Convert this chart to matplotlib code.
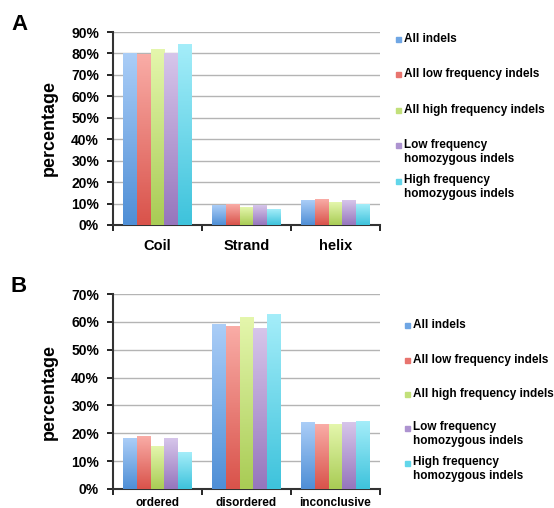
import numpy as np
import matplotlib.pyplot as plt
from matplotlib.colors import LinearSegmentedColormap
from matplotlib.patches import Rectangle

plt.rcParams['font.family'] = ['Liberation Sans', 'DejaVu Sans']
plt.rcParams['font.weight'] = 'bold'

# Datos
series = ['All indels', 'All low frequency indels', 'All high frequency indels',
          'Low frequency\nhomozygous indels', 'High frequency\nhomozygous indels']
cats_a = ['Coil', 'Strand', 'helix']
vals_a = [[80.1, 9.0, 11.2],
          [79.3, 9.5, 11.7],
          [82.0, 8.2, 10.6],
          [80.1, 9.3, 11.5],
          [84.3, 7.0, 9.5]]
cats_b = ['ordered', 'disordered', 'inconclusive']
vals_b = [[18.0, 58.9, 24.0],
          [18.8, 58.2, 23.0],
          [15.2, 61.5, 23.3],
          [18.3, 57.6, 24.0],
          [13.2, 62.5, 24.1]]

# colores (abajo, arriba) para el degradado
grad = [('#4f8fd6', '#aacdf7'),
        ('#d9534b', '#f9aca6'),
        ('#a9cc55', '#e4f6ac'),
        ('#9676bd', '#d6c5ea'),
        ('#3ec3dc', '#a4edf9')]
mid = ['#6fa6e4', '#e8746e', '#c2e07a', '#ad93d0', '#62d6ea']

W, H = 554, 508
fig = plt.figure(figsize=(W / 100, H / 100), dpi=100)


def panel(rect, cats, vals, ymax, step, legend_y, legend_x, letter, letter_y, lab_pad, lab_size):
    ax = fig.add_axes(rect)
    n = len(vals)
    x = np.arange(len(cats))
    bw = 0.78 / n
    for i, v in enumerate(vals):
        cmap = LinearSegmentedColormap.from_list('g%d' % i, grad[i])
        pos = x - 0.39 + bw * (i + 0.5)
        bars = ax.bar(pos, v, bw, color='none', zorder=3)
        # degradado vertical dentro de cada barra
        for b in bars:
            x0, y0 = b.get_x(), b.get_y()
            ax.imshow(np.linspace(0, 1, 64).reshape(-1, 1), cmap=cmap, origin='lower',
                      extent=(x0, x0 + b.get_width(), y0, y0 + b.get_height()),
                      aspect='auto', zorder=3)
    ax.set_xlim(-0.5, len(cats) - 0.5)
    ax.set_ylim(0, ymax)
    ticks = np.arange(0, ymax + 1, step)
    ax.set_yticks(ticks)
    ax.set_yticklabels(['%d%%' % t for t in ticks], fontsize=10, fontweight='bold')
    ax.set_xticks(x)
    ax.set_xticklabels(cats, fontsize=lab_size, fontweight='bold')
    ax.set_xticks(np.arange(-0.5, len(cats), 1), minor=True)
    ax.tick_params(axis='x', which='major', length=0, pad=lab_pad)
    ax.tick_params(axis='x', which='minor', length=4, width=1.2, direction='out')
    ax.tick_params(axis='y', length=4, width=1.2, pad=6)
    ax.yaxis.grid(True, color='#b4b4b4', linewidth=1)
    ax.set_axisbelow(True)
    for s in ['top', 'right']:
        ax.spines[s].set_visible(False)
    for s in ['left', 'bottom']:
        ax.spines[s].set_linewidth(1.5)
        ax.spines[s].set_color('#333333')
    ax.set_ylabel('percentage', fontsize=13, fontweight='bold', labelpad=10)
    fig.text(11 / W, 1 - letter_y / H, letter, fontsize=16, fontweight='bold', va='center')
    # leyenda manual (espaciado irregular como en el original)
    for i, lab in enumerate(series):
        yy = 1 - legend_y[i] / H
        fig.patches.append(Rectangle((legend_x / W, yy - 2.5 / H), 5 / W, 5 / H,
                                     transform=fig.transFigure, color=mid[i]))
        if '\n' in lab:
            fig.text((legend_x + 8) / W, yy + 7 / H, lab, fontsize=8.5, fontweight='bold',
                     va='top', linespacing=1.25)
        else:
            fig.text((legend_x + 8) / W, yy, lab, fontsize=8.5, fontweight='bold', va='center')
    return ax


panel([113 / W, 1 - 225 / H, 267 / W, 193 / H], cats_a, vals_a, 90, 10,
      [39, 74, 110, 146, 181], 396, 'A', 25, 10, 10.5)
panel([113 / W, 1 - 489 / H, 267 / W, 195 / H], cats_b, vals_b, 70, 10,
      [325, 360, 394, 428, 463], 405, 'B', 286, 6, 8.5)

fig.savefig('out.png', dpi=100)
